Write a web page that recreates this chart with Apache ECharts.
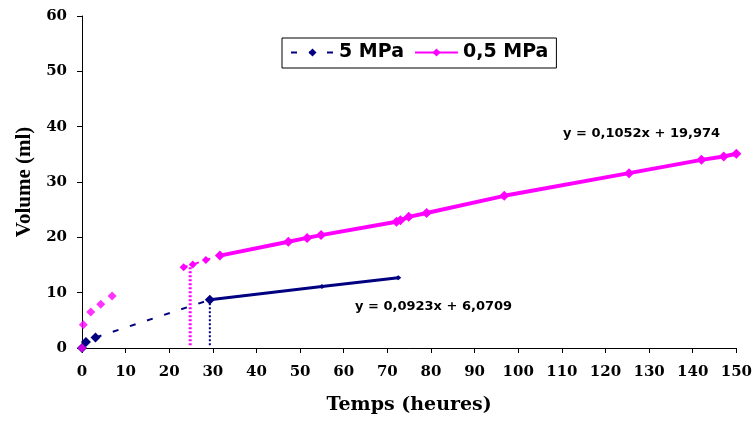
<!DOCTYPE html>
<html><head><meta charset="utf-8">
<script src="https://cdn.jsdelivr.net/npm/echarts@6/dist/echarts.min.js"></script>
<style>html,body{margin:0;padding:0;background:#fff}#c{width:755px;height:423px}</style>
</head><body><div id="c"></div>
<script>
// Data
const xTicks = [0,10,20,30,40,50,60,70,80,90,100,110,120,130,140,150];
const yTicks = [0,10,20,30,40,50,60];
const pinkEarly = [[0,0],[0.3,4.2],[2.0,6.5],[4.3,7.9],[6.9,9.4]];
const pinkDotted = [[23.3,14.6],[25.4,15.1],[28.4,15.9],[31.6,16.7]];
const pinkMain = [[31.6,16.7],[47.3,19.2],[51.6,19.9],[54.8,20.4],[72.1,22.8],[73.0,23.1],[74.9,23.7],[79,24.4],[96.8,27.5],[125.4,31.6],[142,34.0],[147.1,34.6],[150,35.1]];
const navyDashed = [[0,0],[0.9,1.1],[3.1,1.9],[29.3,8.7]];
const navySolid = [[29.3,8.7],[55,11.1],[72.5,12.7]];
const pinkDrop = [[24.8,0.5],[24.8,15.0]];
const navyDrop = [[29.3,0.5],[29.3,8.7]];
const eqPink = 'y = 0,1052x + 19,974';
const eqNavy = 'y = 0,0923x + 6,0709';

const PINK = '#ff00ff', NAVY = '#000080';
const chart = echarts.init(document.getElementById('c'));
const tickFont = {fontFamily:'DejaVu Serif', fontWeight:'bold', fontSize:15, color:'#000'};
chart.setOption({
  animation:false,
  grid:{left:82, right:16, top:16, bottom:75},
  legend:{
    left:282, top:38, itemGap:10,
    borderColor:'#000', borderWidth:1, padding:[5,8,6,8],
    itemWidth:43, itemHeight:10,
    textStyle:{fontFamily:'DejaVu Sans', fontWeight:'bold', fontSize:19, color:'#000'},
    data:['5 MPa','0,5 MPa']
  },
  xAxis:{
    type:'value', min:0, max:150, interval:10,
    name:'Temps (heures)', nameLocation:'middle', nameGap:48,
    nameTextStyle:{fontFamily:'DejaVu Serif', fontWeight:'bold', fontSize:19, color:'#000'},
    axisLine:{onZero:false, lineStyle:{color:'#000', width:1}},
    axisTick:{show:true, length:5, lineStyle:{color:'#000'}},
    axisLabel:Object.assign({margin:17}, tickFont),
    splitLine:{show:false}
  },
  yAxis:{
    type:'value', min:0, max:60, interval:10,
    name:'Volume (ml)', nameLocation:'middle', nameGap:43,
    nameTextStyle:{fontFamily:'Liberation Serif', fontWeight:'bold', fontSize:21, color:'#000'},
    axisLine:{show:true, lineStyle:{color:'#000', width:1}},
    axisTick:{show:true, length:5, lineStyle:{color:'#000'}},
    axisLabel:Object.assign({margin:15}, tickFont),
    splitLine:{show:false}
  },
  series:[
    {name:'5 MPa', type:'line', data:navyDashed, symbol:'diamond', symbolSize:10,
     itemStyle:{color:NAVY}, lineStyle:{color:NAVY, width:2, type:[6,12]}, z:3},
    {name:'5 MPa', type:'line', data:navySolid, symbol:'diamond', symbolSize:[6,5],
     itemStyle:{color:NAVY}, lineStyle:{color:NAVY, width:3}, z:3},
    {name:'5 MPa', type:'line', data:navyDrop, symbol:'none',
     lineStyle:{color:NAVY, width:2, type:[2,2]}, z:2},
    {name:'0,5 MPa', type:'line', data:pinkMain, symbol:'diamond', symbolSize:10,
     itemStyle:{color:PINK}, lineStyle:{color:PINK, width:4}, z:4},
    {name:'0,5 MPa', type:'line', data:pinkDotted, symbol:'diamond', symbolSize:8,
     itemStyle:{color:PINK}, lineStyle:{color:PINK, width:2, type:[4,8]}, z:4},
    {name:'0,5 MPa', type:'scatter', data:pinkEarly, symbol:'diamond', symbolSize:9,
     itemStyle:{color:PINK}, z:4},
    {name:'0,5 MPa', type:'line', data:pinkDrop, symbol:'none',
     lineStyle:{color:PINK, width:3, type:[2,2]}, z:2}
  ],
  graphic:[
    {type:'text', left:563, top:127, style:{text:eqPink, font:'bold 13px "DejaVu Sans"', fill:'#000'}},
    {type:'text', left:355, top:300, style:{text:eqNavy, font:'bold 13px "DejaVu Sans"', fill:'#000'}}
  ]
});
</script></body></html>
